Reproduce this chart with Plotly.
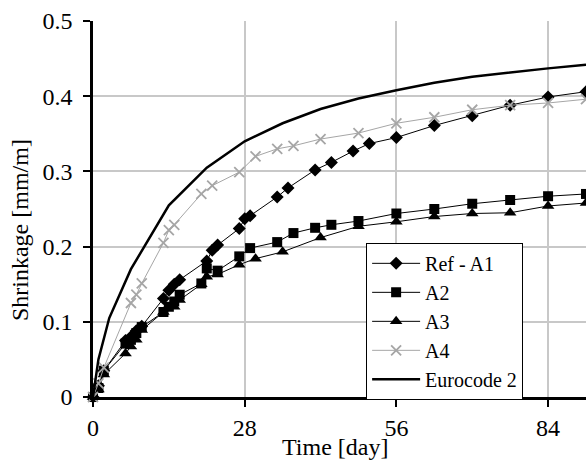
import plotly.graph_objects as go

# Ref - A1
a1_days = [0, 1, 2, 6, 7, 8, 9, 13, 14, 15, 16, 21, 22, 23, 27, 28, 29, 34, 36, 41, 44, 48, 51, 56, 63, 70, 77, 84, 91]
a1_vals = [0, 0.015, 0.035, 0.075, 0.08, 0.088, 0.094, 0.131, 0.142, 0.150, 0.156, 0.181, 0.195, 0.202,
           0.224, 0.237, 0.241, 0.266, 0.278, 0.302, 0.312, 0.327, 0.337, 0.345, 0.361, 0.374, 0.388, 0.399, 0.406]

# A2
a2_days = [0, 1, 2, 6, 7, 8, 9, 13, 14, 15, 16, 20, 21, 23, 27, 29, 34, 37, 41, 44, 49, 56, 63, 70, 77, 84, 91]
a2_vals = [0, 0.012, 0.035, 0.071, 0.076, 0.085, 0.093, 0.113, 0.12, 0.127, 0.136, 0.151, 0.171, 0.168,
           0.187, 0.198, 0.206, 0.218, 0.225, 0.229, 0.234, 0.244, 0.250, 0.257, 0.262, 0.267, 0.27]

# A3
a3_days = [0, 1, 2, 6, 7, 8, 9, 13, 15, 16, 20, 21, 23, 27, 30, 35, 42, 49, 56, 63, 70, 77, 84, 91]
a3_vals = [0, 0.01, 0.03, 0.058, 0.067, 0.076, 0.089, 0.113, 0.12, 0.129, 0.15, 0.16, 0.163, 0.176,
           0.184, 0.193, 0.212, 0.227, 0.233, 0.24, 0.244, 0.245, 0.254, 0.258]

# A4
a4_days = [0, 1, 2, 7, 8, 9, 13, 14, 15, 20, 22, 27, 30, 34, 37, 42, 49, 56, 63, 70, 77, 84, 91]
a4_vals = [0, 0.018, 0.039, 0.125, 0.136, 0.151, 0.205, 0.222, 0.229, 0.27, 0.281, 0.299, 0.32, 0.330,
           0.334, 0.343, 0.351, 0.364, 0.372, 0.382, 0.388, 0.391, 0.396]

# Eurocode 2
ec2_days = [0, 1, 3, 7, 14, 21, 28, 35, 42, 49, 56, 63, 70, 77, 84, 91]
ec2_vals = [0, 0.05, 0.105, 0.17, 0.255, 0.305, 0.34, 0.364, 0.383, 0.397, 0.408, 0.418, 0.426, 0.432, 0.437, 0.442]

x_ticks = [0, 28, 56, 84]
y_ticks = [0, 0.1, 0.2, 0.3, 0.4, 0.5]
y_labels = ["0", "0.1", "0.2", "0.3", "0.4", "0.5"]

x_title = "Time [day]"
y_title = "Shrinkage [mm/m]"

FONT = "Liberation Serif, Times New Roman, serif"

fig = go.Figure()
fig.add_trace(go.Scatter(x=a1_days, y=a1_vals, name="Ref - A1", mode="lines+markers",
                         line=dict(color="black", width=1),
                         marker=dict(symbol="diamond", size=10, color="black"), cliponaxis=False))
fig.add_trace(go.Scatter(x=a2_days, y=a2_vals, name="A2", mode="lines+markers",
                         line=dict(color="black", width=1),
                         marker=dict(symbol="square", size=10, color="black"), cliponaxis=False))
fig.add_trace(go.Scatter(x=a3_days, y=a3_vals, name="A3", mode="lines+markers",
                         line=dict(color="black", width=1),
                         marker=dict(symbol="triangle-up", size=11, color="black"), cliponaxis=False))
fig.add_trace(go.Scatter(x=a4_days, y=a4_vals, name="A4", mode="lines+markers",
                         line=dict(color="#a6a6a6", width=1),
                         marker=dict(symbol="x-thin", size=10, color="#a6a6a6",
                                     line=dict(color="#a6a6a6", width=1.8)), cliponaxis=False))
fig.add_trace(go.Scatter(x=ec2_days, y=ec2_vals, name="Eurocode 2", mode="lines",
                         line=dict(color="black", width=2.5)))

fig.update_layout(
    width=586, height=466,
    margin=dict(l=93, r=0, t=21, b=69),
    paper_bgcolor="white", plot_bgcolor="white",
    font=dict(family=FONT, size=24, color="black"),
    showlegend=True,
    legend=dict(x=0.554, y=0.41, xanchor="left", yanchor="top",
                bgcolor="white", bordercolor="black", borderwidth=1,
                font=dict(family=FONT, size=20), itemwidth=48, tracegroupgap=0,
                entrywidth=152, entrywidthmode="pixels"),
    xaxis=dict(range=[0, 91], tickvals=x_ticks, ticktext=[str(v) for v in x_ticks],
               tickfont=dict(family=FONT, size=24),
               showgrid=True, gridcolor="#c8c8c8", gridwidth=1.5,
               showline=True, linecolor="black", linewidth=2.5,
               ticks="outside", ticklen=7, tickwidth=1.5, tickcolor="black",
               zeroline=False, ticklabelstandoff=0),
    yaxis=dict(range=[0, 0.5], tickvals=y_ticks, ticktext=y_labels,
               tickfont=dict(family=FONT, size=24),
               showgrid=True, gridcolor="#c8c8c8", gridwidth=1.5,
               showline=True, linecolor="black", linewidth=2.5,
               ticks="outside", ticklen=7, tickwidth=1.5, tickcolor="black",
               zeroline=False, ticklabelstandoff=6),
    annotations=[
        dict(text=x_title, xref="paper", yref="paper", x=0.49, y=-0.133,
             xanchor="center", yanchor="middle", showarrow=False,
             font=dict(family=FONT, size=24)),
        dict(text=y_title, xref="paper", yref="paper", x=-0.148, y=0.444,
             xanchor="center", yanchor="middle", showarrow=False, textangle=-90,
             font=dict(family=FONT, size=24)),
    ],
)

fig.write_html("out.html", config={"displayModeBar": False},
               post_script="document.body.style.margin='0';document.body.style.overflow='hidden';")
